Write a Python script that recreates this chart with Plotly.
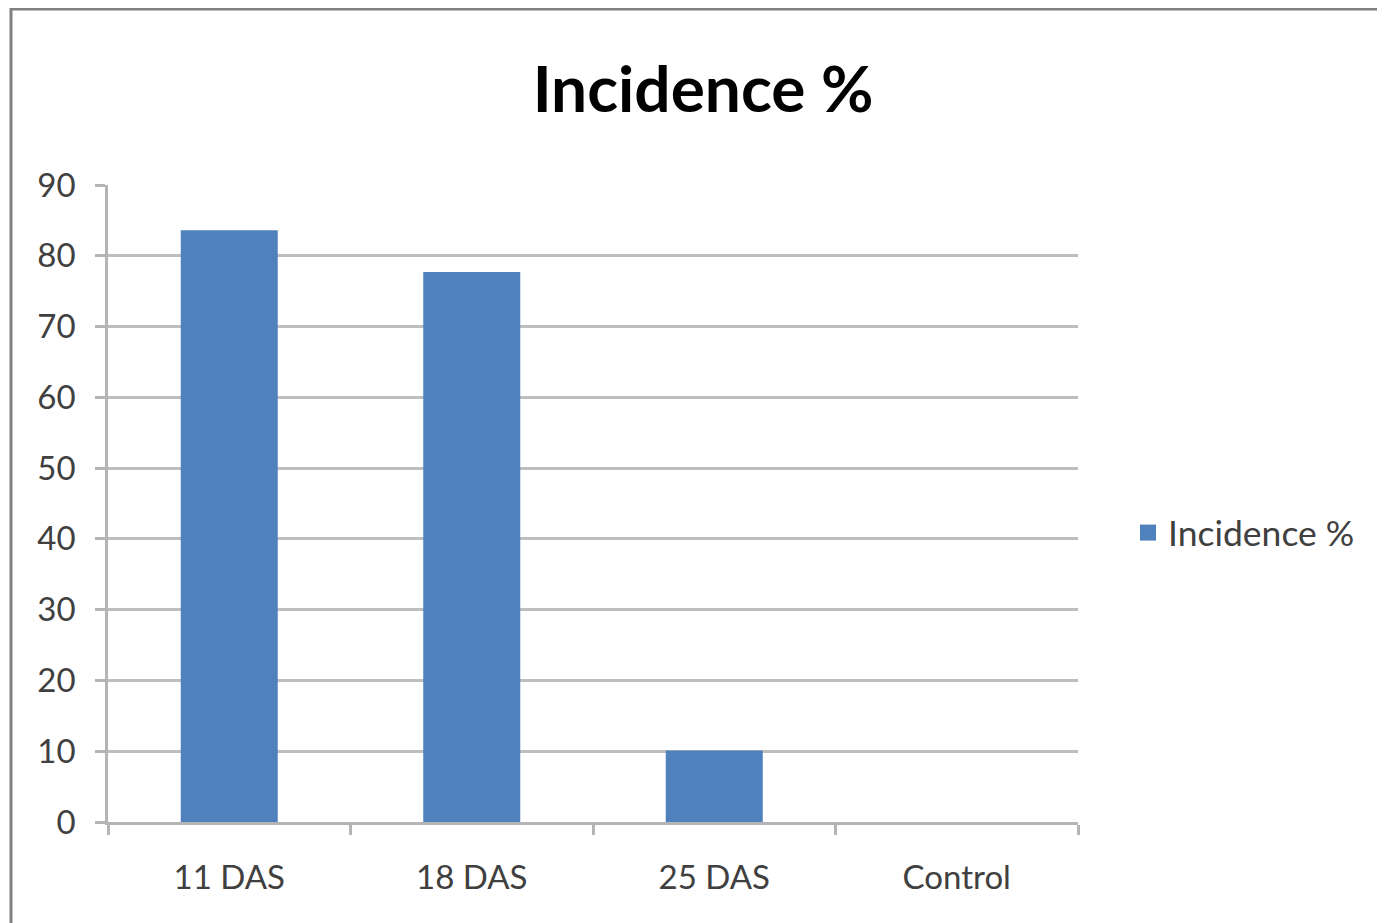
import plotly.graph_objects as go

categories = ["11 DAS", "18 DAS", "25 DAS", "Control"]
incidence = [83.6, 77.7, 10.1, 0]
series_name = "Incidence %"
y_ticks = [0, 10, 20, 30, 40, 50, 60, 70, 80, 90]

OFF = 8  # page body margin
W, H = 1385 - OFF, 923 - OFF
L, R, T, B = 108 - OFF, 307, 185 - OFF, 101
pw, ph = W - L - R, H - T - B

def px_x(x):
    return (x - OFF - L) / pw

def px_y(y):
    return (H - B - (y - OFF)) / ph

fig = go.Figure()
fig.add_trace(go.Bar(
    x=categories, y=incidence, name=series_name,
    marker=dict(color="#4F81BD", line=dict(color="#D6E2F0", width=0)),
    showlegend=False,
))
fig.add_trace(go.Scatter(
    x=[None], y=[None], mode="markers", name=series_name,
    marker=dict(symbol="square", size=22, color="#4F81BD"),
))

fig.update_layout(
    width=W, height=H,
    margin=dict(l=L, r=R, t=T, b=B),
    paper_bgcolor="white", plot_bgcolor="white",
    bargap=0.6,
    font=dict(family="Lato, Carlito, Calibri, sans-serif", color="#404040"),
    title=dict(text="<b>Incidence %</b>", x=(703 - OFF) / W, xref="container", xanchor="center",
               y=1 - (90 - OFF) / H, yref="container", yanchor="middle",
               font=dict(size=64, color="#000000", family="Lato, sans-serif")),
    legend=dict(x=px_x(1128), y=px_y(533), xanchor="left", yanchor="middle",
                font=dict(size=35.5, color="#404040"), itemwidth=30,
                bgcolor="rgba(0,0,0,0)"),
    xaxis=dict(showline=True, linecolor="#B4B4B4", linewidth=2.5,
               ticks="outside", ticklen=10, tickcolor="#B4B4B4", tickwidth=2.5,
               tickson="boundaries", tickfont=dict(size=33, color="#404040"),
               ticklabelstandoff=25, showgrid=False),
    yaxis=dict(range=[0, 90], tickvals=y_ticks, showline=True, linecolor="#B4B4B4",
               linewidth=2.5, ticks="outside", ticklen=10, tickcolor="#B4B4B4",
               tickwidth=2.5, showgrid=True, gridcolor="#BEBEBE", gridwidth=2.5,
               tickfont=dict(size=33, color="#404040"), ticklabelstandoff=13,
               zeroline=False),
    shapes=[dict(type="rect", xref="paper", yref="paper",
                 x0=px_x(11), x1=px_x(1385 + 20), y0=px_y(923 + 20), y1=px_y(9),
                 line=dict(color="#808080", width=3), layer="below")],
)

fig.write_html("out.html")
